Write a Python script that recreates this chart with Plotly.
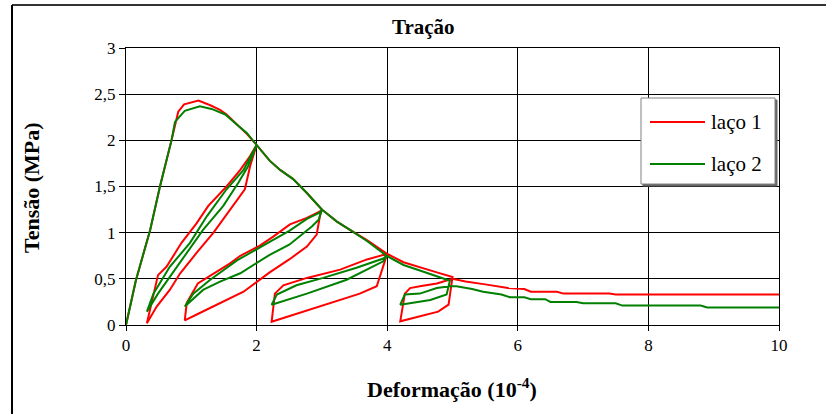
import plotly.graph_objects as go

# ---------------- data (strain in 1e-4, stress in MPa) ----------------
red_env_x = [0, 0.15, 0.37, 0.52, 0.70, 0.80, 0.89, 1.11, 1.29, 1.44, 1.54, 1.70, 1.85, 2.0]
red_env_y = [0, 0.48, 1.03, 1.50, 2.01, 2.31, 2.39, 2.43, 2.38, 2.33, 2.28, 2.17, 2.07, 1.95]
red_l1_x = [1.97, 1.90, 1.82, 1.59, 1.34, 1.08, 0.83, 0.67, 0.47, 0.32,
            0.42, 0.49, 0.62, 0.85, 1.08, 1.26, 1.54, 1.75, 1.90, 2.0]
red_l1_y = [1.88, 1.72, 1.47, 1.25, 1.00, 0.78, 0.56, 0.38, 0.20, 0.02,
            0.31, 0.54, 0.63, 0.89, 1.10, 1.29, 1.50, 1.68, 1.83, 1.95]
red_e2_x = [2.2, 2.36, 2.56, 2.77, 3.0]
red_e2_y = [1.78, 1.68, 1.58, 1.43, 1.25]
red_l2_x = [2.97, 2.92, 2.77, 2.5, 2.2, 1.8, 1.44, 1.13, 0.90,
            0.93, 1.1, 1.35, 1.6, 1.75, 2.05, 2.26, 2.51, 2.77, 2.97, 3.0]
red_l2_y = [1.18, 0.98, 0.85, 0.71, 0.57, 0.36, 0.24, 0.13, 0.05,
            0.24, 0.45, 0.56, 0.67, 0.75, 0.86, 0.96, 1.09, 1.16, 1.23, 1.25]
red_e3_x = [3.23, 3.43, 3.69, 4.0]
red_e3_y = [1.12, 1.03, 0.92, 0.77]
red_l3_x = [3.91, 3.84, 3.58, 2.77, 2.23, 2.28, 2.41, 2.77, 3.28, 3.69, 4.0]
red_l3_y = [0.56, 0.42, 0.34, 0.16, 0.035, 0.34, 0.43, 0.51, 0.60, 0.71, 0.77]
red_e4_x = [4.25, 4.5, 4.76, 5.0]
red_e4_y = [0.68, 0.63, 0.57, 0.52]
red_l4_x = [4.94, 4.78, 4.20, 4.27, 4.35, 4.50, 4.76, 5.0]
red_l4_y = [0.22, 0.145, 0.04, 0.34, 0.40, 0.42, 0.45, 0.50]
red_tail_x = [5.2, 5.5, 5.7, 5.85, 6.1, 6.2, 6.6, 6.7, 7.4, 7.5, 10]
red_tail_y = [0.47, 0.44, 0.42, 0.40, 0.39, 0.36, 0.36, 0.34, 0.34, 0.33, 0.33]

grn_env_x = [0, 0.15, 0.37, 0.52, 0.70, 0.75, 0.90, 1.13, 1.31, 1.52, 1.70, 1.85, 2.0]
grn_env_y = [0, 0.48, 1.03, 1.50, 2.01, 2.20, 2.32, 2.37, 2.34, 2.28, 2.17, 2.08, 1.95]
grn_l1_x = [1.87, 1.72, 1.49, 1.18, 0.93, 0.67, 0.49, 0.32,
            0.42, 0.67, 0.98, 1.24, 1.54, 1.80, 2.0]
grn_l1_y = [1.72, 1.54, 1.29, 1.03, 0.78, 0.53, 0.34, 0.145,
            0.34, 0.63, 0.89, 1.18, 1.47, 1.68, 1.95]
grn_e2_x = [2.2, 2.36, 2.56, 2.77, 3.0]
grn_e2_y = [1.78, 1.68, 1.58, 1.43, 1.25]
grn_l2_x = [2.95, 2.85, 2.5, 2.2, 1.75, 1.44, 1.18, 0.90,
            1.03, 1.29, 1.70, 2.2, 2.5, 2.77, 2.97, 3.0]
grn_l2_y = [1.14, 1.07, 0.87, 0.76, 0.56, 0.47, 0.38, 0.20,
            0.34, 0.49, 0.70, 0.90, 1.02, 1.15, 1.22, 1.25]
grn_e3_x = [3.23, 3.43, 3.69, 3.99]
grn_e3_y = [1.12, 1.03, 0.91, 0.75]
grn_l3_x = [3.94, 3.38, 2.77, 2.23, 2.31, 2.61, 3.02, 3.53, 3.94, 3.99]
grn_l3_y = [0.69, 0.49, 0.34, 0.22, 0.33, 0.43, 0.51, 0.62, 0.72, 0.75]
grn_e4_x = [4.25, 4.5, 4.76, 4.96]
grn_e4_y = [0.65, 0.59, 0.53, 0.48]
grn_l4_x = [4.91, 4.66, 4.20, 4.27, 4.5, 4.76, 4.96]
grn_l4_y = [0.33, 0.27, 0.22, 0.33, 0.34, 0.40, 0.42]
grn_tail_x = [5.06, 5.3, 5.47, 5.75, 5.88, 6.1, 6.2, 6.42, 6.5, 6.9, 7.0, 7.5, 7.6, 8.8, 8.9, 10]
grn_tail_y = [0.42, 0.39, 0.36, 0.33, 0.30, 0.30, 0.28, 0.28, 0.25, 0.25, 0.235, 0.235, 0.21, 0.21, 0.19, 0.19]

series_names = ["laço 1", "laço 2"]
series_colors = ["#FF0000", "#008000"]
x_ticks = [0, 2, 4, 6, 8, 10]
x_tick_text = ["0", "2", "4", "6", "8", "10"]
y_ticks = [0, 0.5, 1, 1.5, 2, 2.5, 3]
y_tick_text = ["0", "0,5", "1", "1,5", "2", "2,5", "3"]

red_x = red_env_x + red_l1_x + red_e2_x + red_l2_x + red_e3_x + red_l3_x + red_e4_x + red_l4_x + red_tail_x
red_y = red_env_y + red_l1_y + red_e2_y + red_l2_y + red_e3_y + red_l3_y + red_e4_y + red_l4_y + red_tail_y
grn_x = grn_env_x + grn_l1_x + grn_e2_x + grn_l2_x + grn_e3_x + grn_l3_x + grn_e4_x + grn_l4_x + grn_tail_x
grn_y = grn_env_y + grn_l1_y + grn_e2_y + grn_l2_y + grn_e3_y + grn_l3_y + grn_e4_y + grn_l4_y + grn_tail_y

SERIF = "Liberation Serif, Times New Roman, serif"

fig = go.Figure()
fig.add_trace(go.Scatter(x=red_x, y=red_y, mode="lines", name=series_names[0],
                         line=dict(color=series_colors[0], width=2)))
fig.add_trace(go.Scatter(x=grn_x, y=grn_y, mode="lines", name=series_names[1],
                         line=dict(color=series_colors[1], width=2)))

W, H = 826, 414
L, R, T, B = 126, 47, 48, 89
pw, ph = W - L - R, H - T - B


def px(xp):
    return (xp - L) / pw


def py(yp):
    return (H - B - yp) / ph


shapes = [
    # outer chart frame (left and top)
    dict(type="line", xref="paper", yref="paper", x0=px(12), x1=px(826), y0=py(5), y1=py(5),
         line=dict(color="#333333", width=2)),
    dict(type="line", xref="paper", yref="paper", x0=px(12), x1=px(12), y0=py(5), y1=py(414),
         line=dict(color="#000000", width=2)),
    # legend shadow + box
    dict(type="rect", xref="paper", yref="paper", x0=px(643), x1=px(777), y0=py(100), y1=py(186),
         line=dict(color="#666666", width=1), fillcolor="#666666", layer="above"),
    dict(type="rect", xref="paper", yref="paper", x0=px(641), x1=px(775), y0=py(98), y1=py(184),
         line=dict(color="#808080", width=1), fillcolor="white", layer="above"),
]
legend_rows = [122, 164]
annotations = []
for name, color, yrow in zip(series_names, series_colors, legend_rows):
    shapes.append(dict(type="line", xref="paper", yref="paper", x0=px(650), x1=px(705),
                       y0=py(yrow), y1=py(yrow), line=dict(color=color, width=2), layer="above"))
    annotations.append(dict(text=name, xref="paper", yref="paper", x=px(709), y=py(yrow),
                            xanchor="left", yanchor="middle", showarrow=False,
                            font=dict(family=SERIF, size=21, color="black")))

annotations += [
    dict(text="<b>Tração</b>", xref="paper", yref="paper", x=px(423), y=py(27),
         xanchor="center", yanchor="middle", showarrow=False,
         font=dict(family=SERIF, size=21, color="black")),
    dict(text="<b>Deformação (10<sup>-4</sup>)</b>", xref="paper", yref="paper", x=px(452), y=py(388),
         xanchor="center", yanchor="middle", showarrow=False,
         font=dict(family=SERIF, size=22, color="black")),
    dict(text="<b>Tensão (MPa)</b>", xref="paper", yref="paper", x=px(31), y=py(188),
         xanchor="center", yanchor="middle", showarrow=False, textangle=-90,
         font=dict(family=SERIF, size=22, color="black")),
]

fig.update_layout(
    width=W, height=H,
    margin=dict(l=L, r=R, t=T, b=B, pad=0, autoexpand=False),
    paper_bgcolor="white", plot_bgcolor="white",
    font=dict(family=SERIF, size=17, color="black"),
    showlegend=False,
    hovermode=False,
    shapes=shapes,
    annotations=annotations,
    xaxis=dict(range=[0, 10], tickvals=x_ticks, ticktext=x_tick_text, automargin=False,
               showgrid=True, gridcolor="black", gridwidth=1, zeroline=False,
               showline=True, linecolor="black", linewidth=1, mirror=True,
               ticks="outside", ticklen=5, tickcolor="black",
               tickfont=dict(family=SERIF, size=17, color="black")),
    yaxis=dict(range=[0, 3], tickvals=y_ticks, ticktext=y_tick_text, automargin=False,
               showgrid=True, gridcolor="black", gridwidth=1, zeroline=False,
               showline=True, linecolor="black", linewidth=1, mirror=True,
               ticks="outside", ticklen=6, tickcolor="black",
               tickfont=dict(family=SERIF, size=17, color="black")),
)

fig.write_html("out.html", config={"displayModeBar": False},
               post_script="document.body.style.margin='0px';")
